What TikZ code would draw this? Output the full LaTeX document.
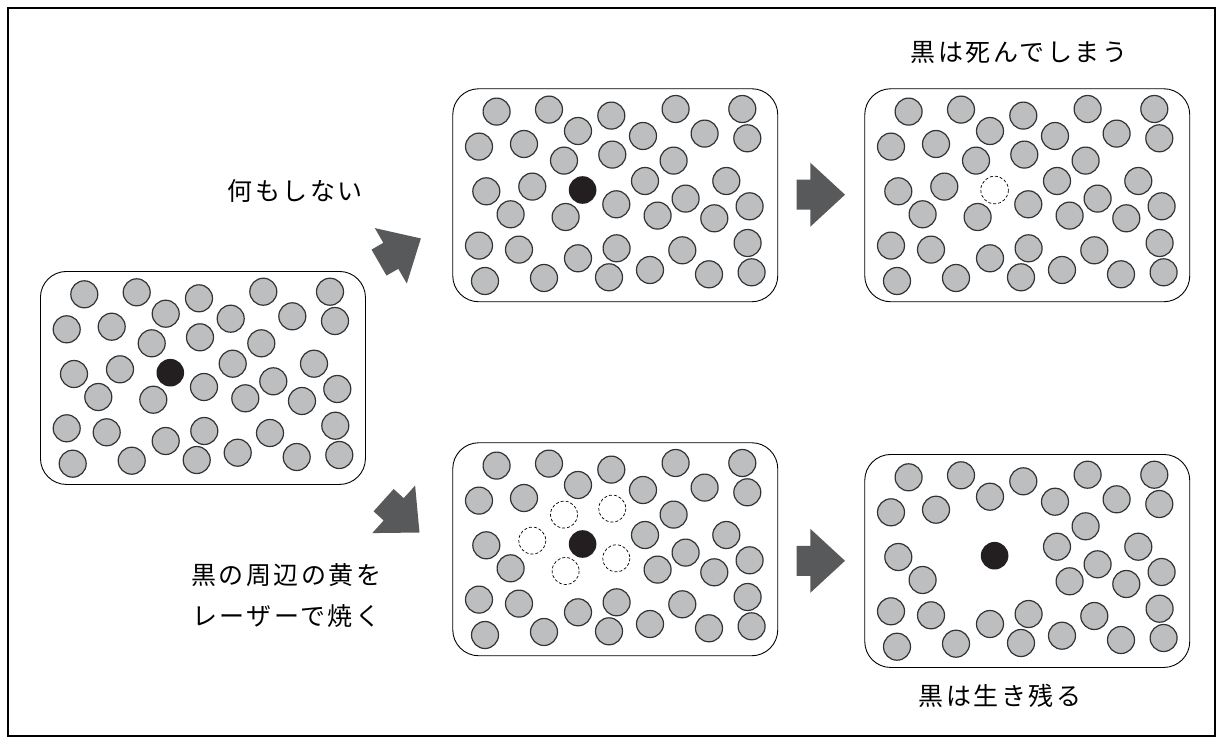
\documentclass[tikz,border=0pt]{standalone}
\usepackage{fontspec}
\setmainfont{Noto Sans CJK JP}[LetterSpace=10]
\definecolor{graingray}{HTML}{BDBEC0}
\definecolor{grainline}{HTML}{333333}
\definecolor{blackgrain}{HTML}{231F20}
\definecolor{arrowgray}{HTML}{58595B}
\newcommand\myRest[1]{%
  \begin{scope}[shift={(#1.north west)}]
    \foreach \gx/\gy in {44.3/23.3, 96.7/21.3, 159/27.3, 223.3/20.7, 290/20.7,
      125.7/42.7, 190.7/47.7, 252.3/45.3, 295/50, 26.7/58.3, 71.7/55.7,
      221.3/72.3, 192.7/92.7, 274/92.7, 34/103, 233.3/110.3, 297.3/118,
      58.3/126, 205.3/127.3, 262/130, 26.7/157.3, 66.7/161.3, 164.3/160,
      230/162, 295.3/154.7, 125.7/170, 197.7/181.7, 32.7/192.7, 91.7/189.7,
      156.7/189, 256.7/186, 299.3/184}
      \draw[grain] (\gx,\gy) circle[radius=13.5];
  \end{scope}}
\newcommand\myNear[2]{%
  \begin{scope}[shift={(#1.north west)}]
    \foreach \gx/\gy in {111.7/72.3, 160/66.3, 80/98.3, 164/116, 113.3/128.7}
      \draw[#2] (\gx,\gy) circle[radius=13.5];
  \end{scope}}
\newcommand\myCenter[2]{%
  \begin{scope}[shift={(#1.north west)}]
    \draw[#2] (130.3,101.7) circle[radius=13.8];
  \end{scope}}
\begin{document}
\begin{tikzpicture}[x=1pt,y=-1pt,
  panel/.style={draw, line width=0.9pt, rounded corners=26pt, minimum width=325pt,
    minimum height=213pt, inner sep=0pt, anchor=north west},
  grain/.style={fill=graingray, draw=grainline, line width=1.2pt},
  blackdot/.style={fill=blackgrain, draw=none},
  ghost/.style={draw=black, line width=0.7pt, dash pattern=on 3pt off 2pt},
  jptext/.style={font=\fontsize{25}{41}\selectfont, align=center, inner sep=0pt},
  blockarrow/.style={fill=arrowgray, draw=none}
]
\useasboundingbox (0,0) rectangle (1223,744);
\draw[line width=1.2pt] (8,8) rectangle (1215,736);

% panels
\node[panel] (pL) at (40,271) {};
\node[panel] (pTM) at (452.3,88.3) {};
\node[panel] (pTR) at (864.3,88.3) {};
\node[panel] (pBM) at (452.3,442.3) {};
\node[panel] (pBR) at (864.3,454) {};

\myRest{pL}\myNear{pL}{grain}\myCenter{pL}{blackdot}
\myRest{pTM}\myNear{pTM}{grain}\myCenter{pTM}{blackdot}
\myRest{pTR}\myNear{pTR}{grain}\myCenter{pTR}{ghost}
\myRest{pBM}\myNear{pBM}{ghost}\myCenter{pBM}{blackdot}
\myRest{pBR}\myCenter{pBR}{blackdot}

% block arrows
\foreach \ax/\ay/\ang in {390.8/255.8/30, 393.7/509.3/-42, 810.3/194.7/0, 810.3/560.8/0}{
  \begin{scope}[shift={(\ax,\ay)}, rotate=\ang]
    \fill[blockarrow] (-13.6,-15) -- (0,-15) -- (0,-32) -- (34.7,0) -- (0,32)
      -- (0,15) -- (-13.6,15) -- cycle;
  \end{scope}}

% labels
\node[jptext] (tNothing) at (295,191) {何もしない};
\node[jptext] (tLaser) at (286,595.5) {黒の周辺の黄を\\レーザーで焼く};
\node[jptext] (tDies) at (1019,52) {黒は死んでしまう};
\node[jptext] (tLives) at (1000,695.5) {黒は生き残る};
\end{tikzpicture}
\end{document}
